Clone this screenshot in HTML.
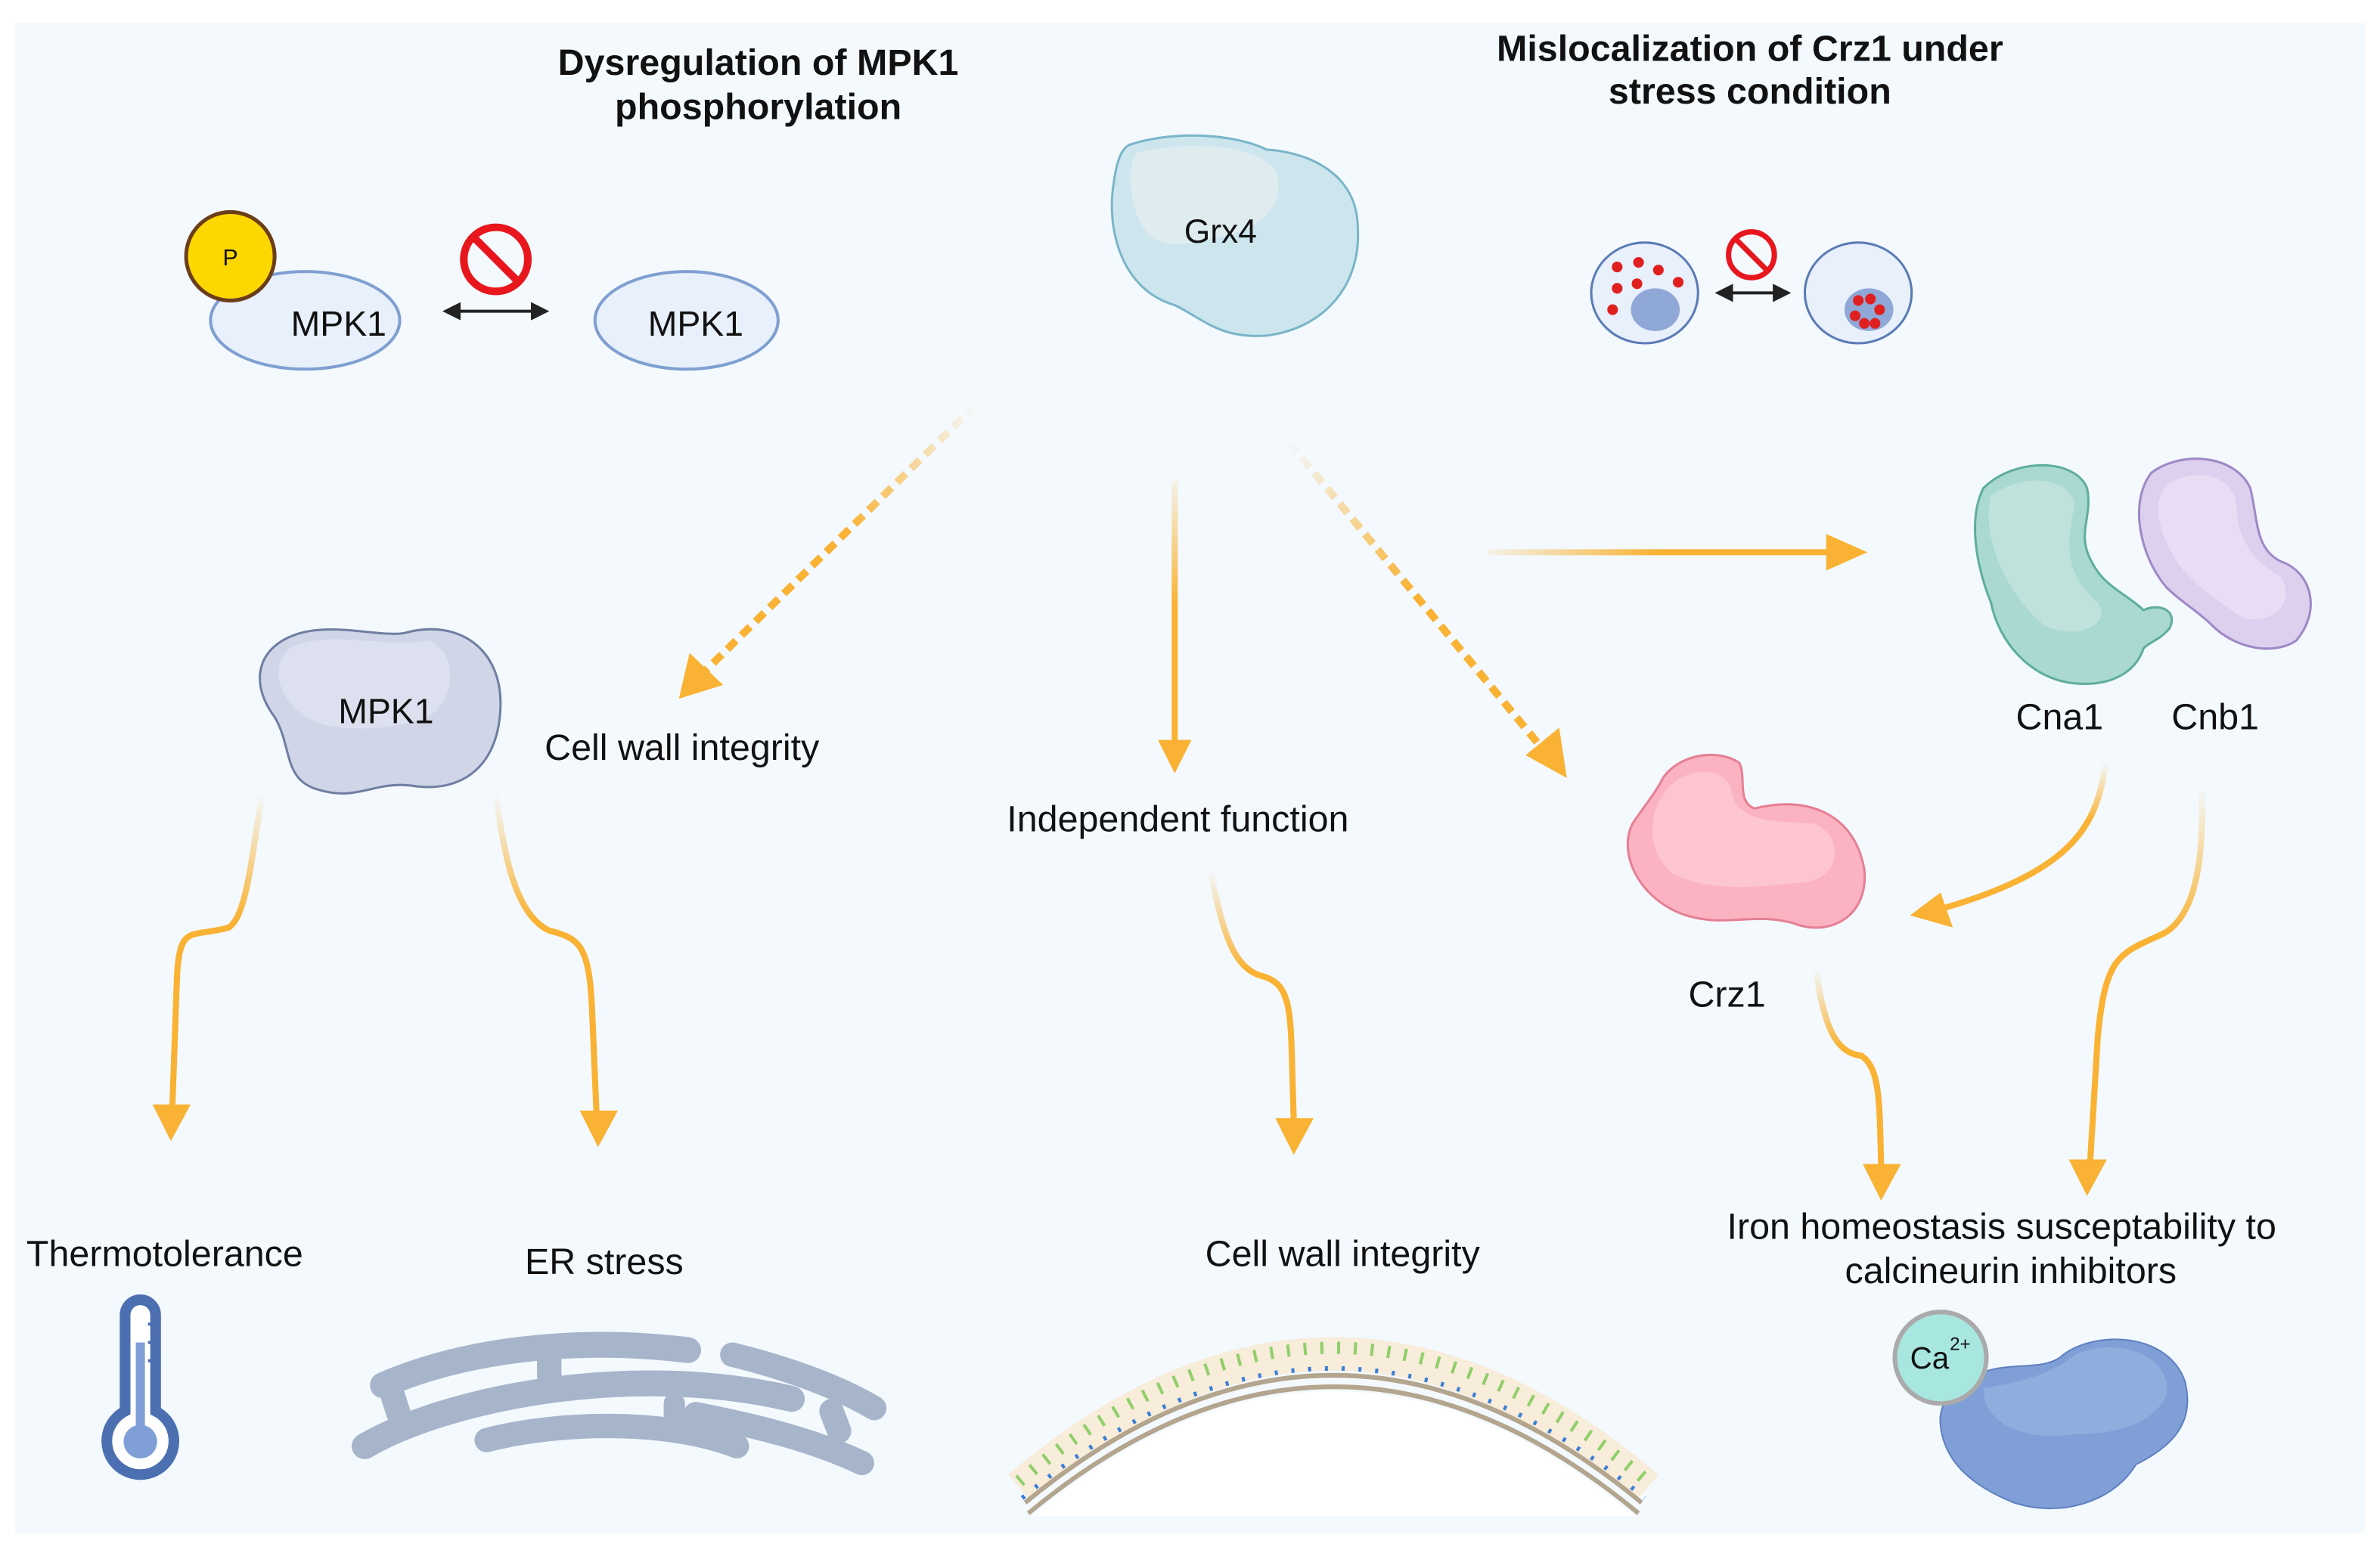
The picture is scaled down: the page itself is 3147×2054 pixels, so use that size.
<!DOCTYPE html>
<html><head><meta charset="utf-8"><style>
html,body{margin:0;padding:0;background:#fff;}
svg{display:block;}
text{font-family:"Liberation Sans",Arial,sans-serif;fill:#111;}
</style></head><body>
<svg width="3147" height="2054" viewBox="0 0 1560 1018" preserveAspectRatio="none" xmlns="http://www.w3.org/2000/svg">
<defs>
<marker id="bk" markerWidth="6" markerHeight="6" refX="5" refY="3" orient="auto-start-reverse" markerUnits="strokeWidth">
<path d="M0,0 L6,3 L0,6 Z" fill="#222"/></marker>
<linearGradient id="g1" gradientUnits="userSpaceOnUse" x1="640" y1="265" x2="470" y2="430"><stop offset="0" stop-color="#f9b233" stop-opacity="0"/><stop offset="0.5" stop-color="#f9b233"/></linearGradient>
<linearGradient id="g2" gradientUnits="userSpaceOnUse" x1="845" y1="290" x2="1005" y2="490"><stop offset="0" stop-color="#f9b233" stop-opacity="0"/><stop offset="0.5" stop-color="#f9b233"/></linearGradient>
<linearGradient id="g3" gradientUnits="userSpaceOnUse" x1="0" y1="315" x2="0" y2="480"><stop offset="0" stop-color="#f9b233" stop-opacity="0.1"/><stop offset="0.5" stop-color="#f9b233"/></linearGradient>
<linearGradient id="g4" gradientUnits="userSpaceOnUse" x1="975" y1="0" x2="1200" y2="0"><stop offset="0" stop-color="#f9b233" stop-opacity="0.1"/><stop offset="0.5" stop-color="#f9b233"/></linearGradient>
<linearGradient id="gv" x1="0" y1="0" x2="0" y2="1"><stop offset="0" stop-color="#f9b233" stop-opacity="0"/><stop offset="0.4" stop-color="#f9b233"/></linearGradient>
</defs>
<rect width="1560" height="1018" fill="#fff"/>
<rect x="10" y="15" width="1540" height="990" fill="#f3f9fd"/>

<text x="497" y="49" font-size="24" font-weight="bold" text-anchor="middle">Dysregulation of MPK1</text>
<text x="497" y="78" font-size="24" font-weight="bold" text-anchor="middle">phosphorylation</text>
<text x="1147" y="40" font-size="24" font-weight="bold" text-anchor="middle">Mislocalization of Crz1 under</text>
<text x="1147" y="68" font-size="24" font-weight="bold" text-anchor="middle">stress condition</text>

<!-- MPK1 phospho -->
<ellipse cx="200" cy="210" rx="62" ry="32" fill="#e8f0fb" stroke="#7f9fd0" stroke-width="2"/>
<circle cx="151" cy="168" r="29" fill="#fdd700" stroke="#6b3e1a" stroke-width="2.5"/>
<text x="151" y="174" font-size="15" text-anchor="middle">P</text>
<text x="222" y="220" font-size="23" text-anchor="middle">MPK1</text>
<line x1="292" y1="204" x2="358" y2="204" stroke="#222" stroke-width="2" marker-start="url(#bk)" marker-end="url(#bk)"/>
<circle cx="325" cy="170" r="21" fill="none" stroke="#e8161d" stroke-width="5"/>
<line x1="311" y1="156" x2="339" y2="184" stroke="#e8161d" stroke-width="5"/>
<ellipse cx="450" cy="210" rx="60" ry="32" fill="#e8f0fb" stroke="#7f9fd0" stroke-width="2"/>
<text x="456" y="220" font-size="23" text-anchor="middle">MPK1</text>

<!-- Grx4 -->
<path d="M740,95 C770,85 810,88 830,98 C860,100 890,115 890,150 C892,185 870,215 830,220 C800,222 790,210 770,200 C735,190 725,150 730,120 C732,105 735,98 740,95 Z" fill="#cde6ee" stroke="#79b5c8" stroke-width="1.5"/>
<path d="M745,100 C780,92 820,95 835,110 C845,130 830,150 800,155 C780,160 760,165 750,150 C740,135 738,110 745,100Z" fill="#e4eeef" opacity="0.8"/>
<text x="800" y="159" font-size="22" text-anchor="middle">Grx4</text>

<!-- cells -->
<ellipse cx="1078" cy="192" rx="35" ry="33" fill="#e8f0fb" stroke="#5a7bb5" stroke-width="1.5"/>
<ellipse cx="1085" cy="203" rx="16" ry="14" fill="#8fa8d8"/>
<g fill="#e02020"><circle cx="1060" cy="175" r="3.5"/><circle cx="1074" cy="172" r="3.5"/><circle cx="1087" cy="177" r="3.5"/><circle cx="1060" cy="189" r="3.5"/><circle cx="1073" cy="186" r="3.5"/><circle cx="1100" cy="185" r="3.5"/><circle cx="1057" cy="203" r="3.5"/></g>
<line x1="1126" y1="192" x2="1172" y2="192" stroke="#222" stroke-width="2" marker-start="url(#bk)" marker-end="url(#bk)"/>
<circle cx="1148" cy="167" r="15" fill="none" stroke="#e8161d" stroke-width="3.5"/>
<line x1="1138" y1="157" x2="1158" y2="177" stroke="#e8161d" stroke-width="3.5"/>
<ellipse cx="1218" cy="192" rx="35" ry="33" fill="#e8f0fb" stroke="#5a7bb5" stroke-width="1.5"/>
<ellipse cx="1225" cy="203" rx="16" ry="14" fill="#8fa8d8"/>
<g fill="#e02020"><circle cx="1218" cy="197" r="3.5"/><circle cx="1226" cy="196" r="3.5"/><circle cx="1232" cy="203" r="3.5"/><circle cx="1216" cy="207" r="3.5"/><circle cx="1222" cy="212" r="3.5"/><circle cx="1229" cy="212" r="3.5"/></g>

<!-- top arrows -->
<line x1="640" y1="265" x2="462" y2="440" stroke="url(#g1)" stroke-width="5" stroke-dasharray="8,5"/>
<path d="M445,458 L452,428 L474,449 Z" fill="#f9b233"/>
<line x1="845" y1="290" x2="1012" y2="492" stroke="url(#g2)" stroke-width="5" stroke-dasharray="8,5"/>
<path d="M1027,510 L1000,495 L1022,477 Z" fill="#f9b233"/>
<line x1="770" y1="315" x2="770" y2="487" stroke="url(#g3)" stroke-width="4"/>
<path d="M770,507 L759,485 L781,485 Z" fill="#f9b233"/>
<line x1="975" y1="362" x2="1200" y2="362" stroke="url(#g4)" stroke-width="4"/>
<path d="M1224,362 L1197,350 L1197,374 Z" fill="#f9b233"/>

<!-- MPK1 blob -->
<path d="M185,420 C210,405 245,418 265,415 C300,405 330,425 328,465 C326,505 300,520 270,515 C245,512 235,525 210,518 C185,512 192,490 180,470 C165,450 168,430 185,420 Z" fill="#d0d6e8" stroke="#6f7ea0" stroke-width="1.5"/>
<path d="M190,425 C215,412 250,425 280,420 C300,425 300,460 280,470 C255,480 215,480 200,470 C180,455 178,435 190,425Z" fill="#e0e4f0" opacity="0.8"/>
<text x="253" y="474" font-size="23" text-anchor="middle">MPK1</text>

<text x="447" y="498" font-size="24" text-anchor="middle">Cell wall integrity</text>
<text x="772" y="545" font-size="24" text-anchor="middle">Independent function</text>

<!-- Cna1 -->
<path d="M1300,320 C1320,300 1360,300 1368,320 C1372,340 1360,350 1372,370 C1380,385 1395,390 1405,400 C1415,395 1428,400 1422,412 C1415,420 1410,420 1405,425 C1400,440 1385,450 1360,448 C1330,445 1310,420 1305,395 C1295,370 1290,340 1300,320 Z" fill="#a9d9d0" stroke="#5fae9c" stroke-width="1.5"/>
<path d="M1305,325 C1325,310 1355,312 1360,330 C1355,355 1352,375 1375,395 C1385,410 1360,420 1340,410 C1315,390 1298,350 1305,325Z" fill="#bfe2dc"/>
<!-- Cnb1 -->
<path d="M1410,310 C1430,295 1465,298 1475,320 C1480,340 1478,360 1495,368 C1515,375 1522,400 1505,420 C1490,430 1465,425 1450,410 C1440,400 1430,395 1420,385 C1403,365 1395,330 1410,310 Z" fill="#ddd0ee" stroke="#9e88c6" stroke-width="1.5"/>
<path d="M1420,318 C1440,305 1465,312 1466,332 C1466,355 1480,370 1495,378 C1505,395 1490,410 1470,405 C1455,395 1440,385 1428,370 C1415,350 1410,330 1420,318Z" fill="#e8ddf4"/>
<text x="1350" y="478" font-size="24" text-anchor="middle">Cna1</text>
<text x="1452" y="478" font-size="24" text-anchor="middle">Cnb1</text>

<!-- Crz1 -->
<path d="M1090,510 C1100,495 1125,490 1140,500 C1145,510 1138,525 1150,530 C1180,522 1215,530 1222,570 C1225,600 1200,615 1175,605 C1150,598 1130,608 1105,600 C1075,590 1060,560 1070,540 C1078,528 1085,520 1090,510 Z" fill="#fcb3c1" stroke="#e57f94" stroke-width="1.5"/>
<path d="M1095,515 C1110,500 1135,505 1135,520 C1140,540 1165,538 1190,540 C1210,550 1205,575 1185,578 C1150,582 1120,585 1095,572 C1078,555 1080,530 1095,515Z" fill="#fdc5cf"/>
<text x="1132" y="660" font-size="24" text-anchor="middle">Crz1</text>

<!-- curvy arrows -->
<g fill="none" stroke-width="4">
<path d="M172,520 C165,560 162,600 150,608 C125,615 118,605 116,640 L113,725" stroke="url(#gv)"/>
<path d="M325,520 C330,560 338,600 360,610 C380,615 386,620 388,660 L391,730" stroke="url(#gv)"/>
<path d="M793,570 C800,600 805,635 828,640 C845,645 846,660 847,700 L848,735" stroke="url(#gv)"/>
<path d="M1380,500 C1375,540 1360,570 1275,595" stroke="url(#gv)"/>
<path d="M1443,515 C1445,560 1440,600 1418,612 C1390,625 1380,625 1375,680 L1370,762" stroke="url(#gv)"/>
<path d="M1190,635 C1195,665 1200,690 1220,692 C1232,700 1232,720 1233,765" stroke="url(#gv)"/>
</g>
<g fill="#f9b233">
<path d="M112,748 L100,724 L125,724 Z"/>
<path d="M392,752 L380,728 L405,728 Z"/>
<path d="M848,757 L836,733 L861,733 Z"/>
<path d="M1252,600 L1272,585 L1280,608 Z"/>
<path d="M1368,784 L1356,760 L1381,760 Z"/>
<path d="M1233,787 L1221,763 L1246,763 Z"/>
</g>

<text x="108" y="830" font-size="24" text-anchor="middle">Thermotolerance</text>
<text x="396" y="835" font-size="24" text-anchor="middle">ER stress</text>
<text x="880" y="830" font-size="24" text-anchor="middle">Cell wall integrity</text>
<text x="1312" y="812" font-size="24" text-anchor="middle">Iron homeostasis susceptability to</text>
<text x="1318" y="841" font-size="24" text-anchor="middle">calcineurin inhibitors</text>

<!-- thermometer -->
<path d="M82,862 a10,10 0 0 1 20,0 L102,925 a22,22 0 1 1 -20,0 Z" fill="#fff" stroke="#4b6fb0" stroke-width="7"/>
<circle cx="92" cy="945" r="11" fill="#7f9fd6"/>
<rect x="89" y="880" width="6" height="60" fill="#7f9fd6"/>
<line x1="97" y1="868" x2="103" y2="868" stroke="#4b6fb0" stroke-width="2"/>
<line x1="97" y1="880" x2="103" y2="880" stroke="#4b6fb0" stroke-width="2"/>
<line x1="97" y1="892" x2="103" y2="892" stroke="#4b6fb0" stroke-width="2"/>

<!-- ER -->
<g fill="none" stroke="#a7b5cb" stroke-linecap="round">
<path d="M251,908 C304,885 377,876 451,885" stroke-width="17"/>
<path d="M239,948 C292,917 413,892 519,917" stroke-width="17"/>
<path d="M456,927 C497,935 533,944 565,959" stroke-width="16"/>
<path d="M480,888 C521,898 553,911 573,923" stroke-width="16"/>
<path d="M319,944 C365,932 437,930 483,948" stroke-width="16"/>
<path d="M256,910 L261,926" stroke-width="16"/>
<path d="M360,889 L360,902" stroke-width="16"/>
<path d="M545,925 L550,938" stroke-width="16"/>
<path d="M442,920 L442,931" stroke-width="14"/>
</g>

<!-- cell wall -->
<path d="M668,975 Q874,800 1080,975" fill="none" stroke="#f8ecda" stroke-width="22"/>
<path d="M668,975 Q874,800 1080,975" fill="none" stroke="#8fcf6a" stroke-width="8" stroke-dasharray="2,9" transform="translate(0,-4)"/>
<path d="M670,982 Q874,812 1078,982" fill="none" stroke="#3a7fd5" stroke-width="3" stroke-dasharray="2,9"/>
<path d="M672,985 Q874,818 1076,985" fill="none" stroke="#b3a58e" stroke-width="3"/>
<path d="M674,992 Q874,826 1074,992" fill="none" stroke="#b3a58e" stroke-width="3"/>
<path d="M676,994 Q874,830 1072,994 Z" fill="#fff"/>

<!-- calcineurin -->
<path d="M1290,905 C1310,890 1335,900 1350,890 C1370,872 1420,872 1432,905 C1440,935 1420,950 1400,960 C1385,985 1350,995 1320,985 C1295,975 1275,960 1272,935 C1270,920 1280,910 1290,905 Z" fill="#7f9fd6" stroke="#5f7fc0" stroke-width="1"/>
<path d="M1300,910 C1330,905 1345,900 1360,888 C1390,875 1425,890 1420,915 C1410,935 1385,940 1360,940 C1330,945 1300,935 1300,910Z" fill="#8faddd"/>
<circle cx="1272" cy="890" r="30" fill="#a8e6e0" stroke="#aaa" stroke-width="3"/>
<text x="1252" y="897" font-size="20">Ca</text>
<text x="1278" y="885" font-size="12">2+</text>
</svg>
</body></html>
